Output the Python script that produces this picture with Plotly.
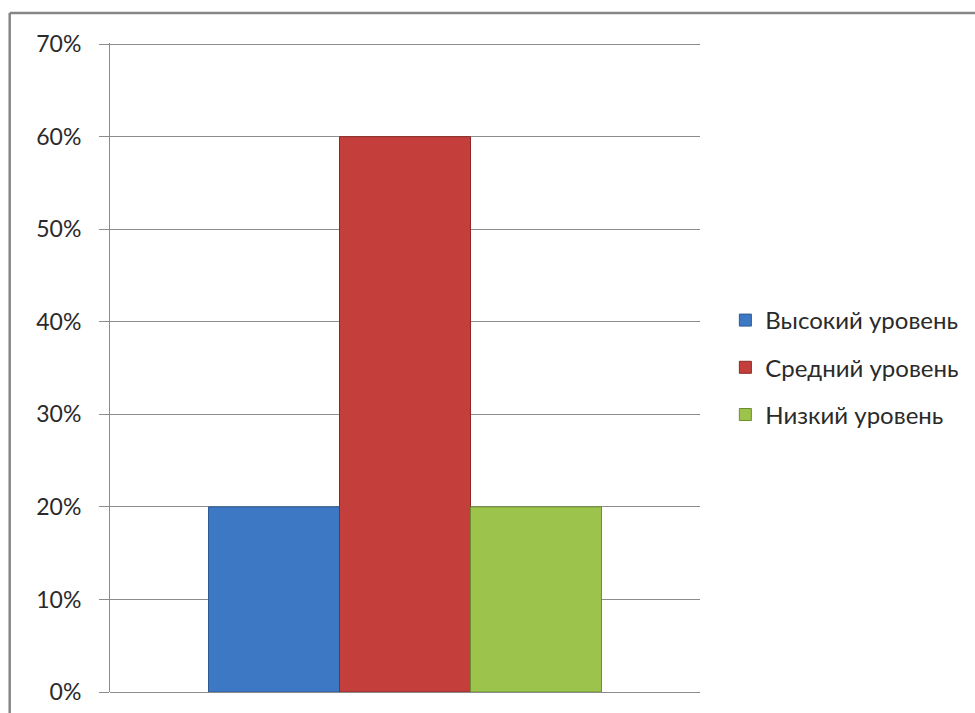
import plotly.graph_objects as go

categories = ["Высокий уровень", "Средний уровень", "Низкий уровень"]
values = [0.20, 0.60, 0.20]
colors = ["#3d78c4", "#c43f3b", "#9cc34c"]
edge_colors = ["#2c5a96", "#8a2a27", "#6f8d30"]
tick_vals = [0, 0.1, 0.2, 0.3, 0.4, 0.5, 0.6, 0.7]
tick_text = ["0%", "10%", "20%", "30%", "40%", "50%", "60%", "70%"]

FONT = "Lato, 'Noto Sans', 'DejaVu Sans', sans-serif"

fig = go.Figure()
for i, (name, v) in enumerate(zip(categories, values)):
    fig.add_trace(go.Bar(
        x=[0], y=[v], name=name,
        marker=dict(color=colors[i], line=dict(color=edge_colors[i], width=1)),
        legendgroup=f"g{i}",
        hoverinfo="skip",
    ))

# chart frame (top and left edges)
fig.add_shape(type="line", xref="paper", yref="paper",
              x0=-0.170, x1=1.5, y0=1.0463, y1=1.0463,
              line=dict(color="#868686", width=2.5))
fig.add_shape(type="line", xref="paper", yref="paper",
              x0=-0.170, x1=-0.170, y0=-0.1, y1=1.0463,
              line=dict(color="#868686", width=2.5))

fig.update_layout(
    width=975, height=713,
    margin=dict(l=110, r=275, t=43, b=21, autoexpand=False),
    paper_bgcolor="white", plot_bgcolor="white",
    barmode="group", bargap=0.334, bargroupgap=0,
    font=dict(family=FONT, size=23, color="#2a2a2a"),
    showlegend=True,
    legend=dict(
        x=1.043, y=0.5, xanchor="left", yanchor="middle",
        font=dict(family=FONT, size=24, color="#2a2a2a"),
        traceorder="grouped", tracegroupgap=13,
        itemclick=False, itemdoubleclick=False,
    ),
    xaxis=dict(
        range=[-0.5, 0.5], showticklabels=False, showgrid=False,
        zeroline=False, showline=False, ticks="", automargin=False,
    ),
    yaxis=dict(
        range=[0, 0.7012], tickvals=tick_vals, ticktext=tick_text,
        showgrid=True, gridcolor="#8c8c8c", gridwidth=1,
        zeroline=True, zerolinecolor="#8c8c8c", zerolinewidth=1,
        showline=True, linecolor="#8c8c8c", linewidth=1,
        ticks="outside", ticklen=10, tickcolor="#8c8c8c",
        ticklabelstandoff=13, automargin=False,
        tickfont=dict(family=FONT, size=23, color="#2a2a2a"),
    ),
)

fig.write_html("out.html")
